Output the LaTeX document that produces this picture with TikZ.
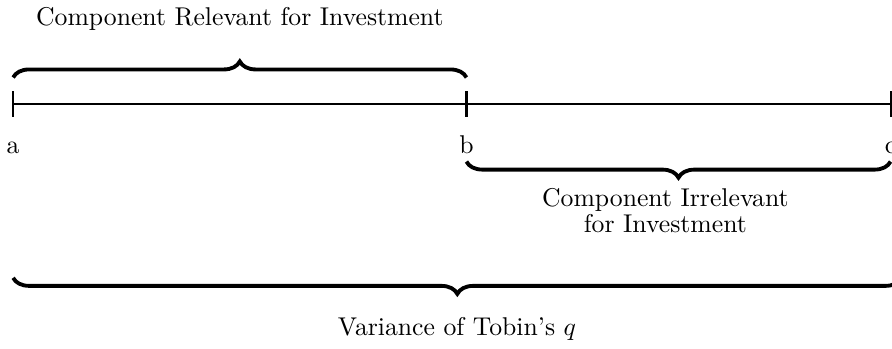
\documentclass[tikz,border=0pt]{standalone}
\usepackage{amsmath}
\usetikzlibrary{positioning, decorations.pathreplacing}

\tikzset{
    axisline/.style={thick},
    bracket/.style={decorate, decoration={brace, amplitude=0.22cm}, line width=1.5pt},
    label/.style={anchor=base}
}

\begin{document}
\begin{tikzpicture}
    \useasboundingbox (-0.18,-3.35) rectangle (12.02,1.42);

    % points on the line
    \coordinate (a) at (0,0);
    \coordinate (b) at (6.2,0);
    \coordinate (c) at (12,0);
    \coordinate (cend) at (12.15,0);

    \draw[axisline] (a) -- (c);
    \foreach \p in {a,b,c}
        \draw[axisline] ([yshift=-0.18cm]\p) -- ([yshift=0.18cm]\p);

    \node[label] (la) at (0,-0.68) {a};
    \node[label] (lb) at (6.2,-0.68) {b};
    \node[label] (lc) at (12,-0.68) {c};

    % braces
    \draw[bracket] ([yshift=0.36cm]a) -- ([yshift=0.36cm]b);
    \node (rel) at (3.1,1.16) {Component Relevant for Investment};

    \draw[bracket] ([yshift=-0.79cm]c) -- ([yshift=-0.79cm]b);
    \node[align=center] (irr) at (8.92,-1.46) {Component Irrelevant\\[-2pt]for Investment};

    \draw[bracket] ([yshift=-2.38cm]cend) -- ([yshift=-2.38cm]a);
    \node (var) at (6.07,-3.08) {Variance of Tobin's $q$};
\end{tikzpicture}
\end{document}
